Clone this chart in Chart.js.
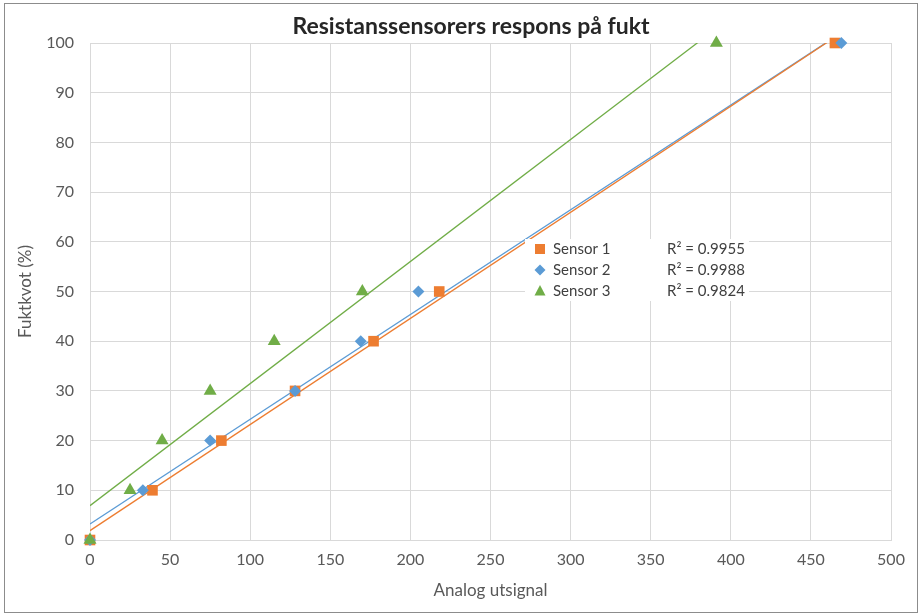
<!DOCTYPE html>
<html>
<head>
<meta charset="utf-8">
<script src="https://cdn.jsdelivr.net/npm/chart.js@4/dist/chart.umd.min.js"></script>
<style>
html,body{margin:0;padding:0;background:#fff;}
#wrap{width:921px;height:615px;position:relative;}
</style>
</head>
<body>
<div id="wrap"><canvas id="c" width="921" height="615"></canvas></div>
<script>
// ---- data ----
const chartTitle = 'Resistanssensorers respons på fukt';
const xTitle = 'Analog utsignal';
const yTitle = 'Fuktkvot (%)';
const humidity = [0, 10, 20, 30, 40, 50, 100];
const sensor1 = [0, 39, 82, 128, 177, 218, 465];
const sensor2 = [0, 33, 75, 128, 169, 205, 469];
const sensor3 = [0, 25, 45, 75, 115, 170, 391];
const seriesNames = ['Sensor 1', 'Sensor 2', 'Sensor 3'];
const r2Labels = ['R² = 0.9955', 'R² = 0.9988', 'R² = 0.9824'];
const colors = ['#ED7D31', '#5B9BD5', '#70AD47'];
const pointStyles = ['rect', 'rectRot', 'triangle'];
const pointRadii = [7.5, 6, 7.5];

function pts(xs, ys){ return xs.map((x,i)=>({x:x, y:ys[i]})); }
function trend(xs, ys){
  const n = xs.length;
  const mx = xs.reduce((a,b)=>a+b,0)/n, my = ys.reduce((a,b)=>a+b,0)/n;
  let sxy=0, sxx=0;
  for(let i=0;i<n;i++){ sxy += (xs[i]-mx)*(ys[i]-my); sxx += (xs[i]-mx)*(xs[i]-mx); }
  const b = sxy/sxx, a = my - b*mx;
  const x0 = Math.min(...xs), x1 = Math.max(...xs);
  return [{x:x0, y:a+b*x0}, {x:x1, y:a+b*x1}];
}
const sensors = [sensor1, sensor2, sensor3];
const FONT = 'Lato, "Open Sans", sans-serif';

const datasets = [];
sensors.forEach((xs, i) => {
  datasets.push({
    label: seriesNames[i], data: pts(xs, humidity), showLine: false,
    pointStyle: pointStyles[i], pointRadius: pointRadii[i], pointHoverRadius: pointRadii[i],
    backgroundColor: colors[i], borderColor: colors[i], pointBorderWidth: 0,
    clip: false, order: 2 - i
  });
});
sensors.forEach((xs, i) => {
  datasets.push({
    label: seriesNames[i] + ' trend', data: trend(xs, humidity), showLine: true,
    pointRadius: 0, borderColor: colors[i], borderWidth: 1.3, fill: false, order: 10 + i
  });
});

const deco = {
  id: 'deco',
  afterDatasetsDraw(chart){
    const ctx = chart.ctx;
    ctx.save();
    // legend box
    ctx.fillStyle = '#fff';
    ctx.fillRect(525, 239, 224, 62);
    const ys = [249, 270, 291];
    for (let i=0;i<3;i++){
      const cx = 540, cy = ys[i];
      ctx.fillStyle = colors[i];
      ctx.beginPath();
      if (i===0){ ctx.rect(cx-5, cy-5, 10, 10); }
      else if (i===1){ ctx.moveTo(cx, cy-5.5); ctx.lineTo(cx+5.5, cy); ctx.lineTo(cx, cy+5.5); ctx.lineTo(cx-5.5, cy); ctx.closePath(); }
      else { ctx.moveTo(cx, cy-6); ctx.lineTo(cx+5.5, cy+4.5); ctx.lineTo(cx-5.5, cy+4.5); ctx.closePath(); }
      ctx.fill();
      ctx.fillStyle = '#404040';
      ctx.font = '15px ' + FONT;
      ctx.textBaseline = 'middle';
      ctx.textAlign = 'left';
      ctx.fillText(seriesNames[i], 553, cy);
      ctx.fillText(r2Labels[i], 667, cy);
    }
    ctx.restore();
  },
  afterDraw(chart){
    const ctx = chart.ctx;
    ctx.save();
    ctx.fillStyle = '#262626';
    ctx.font = 'bold 23px ' + FONT;
    ctx.textAlign = 'center';
    ctx.textBaseline = 'middle';
    ctx.fillText(chartTitle, 471, 27);
    ctx.strokeStyle = '#8c8c8c';
    ctx.lineWidth = 1;
    ctx.strokeRect(4.5, 3.5, 913, 609);
    ctx.restore();
  }
};

new Chart(document.getElementById('c'), {
  type: 'scatter',
  data: { datasets },
  options: {
    responsive: false, animation: false, devicePixelRatio: 1,
    layout: { padding: { top: 43, right: 30, left: 0, bottom: 0 } },
    plugins: { legend: { display: false }, title: { display: false }, tooltip: { enabled: false } },
    scales: {
      x: {
        type: 'linear', min: 0, max: 500,
        ticks: { stepSize: 50, color: '#595959', font: { family: FONT, size: 16 }, padding: 10 },
        grid: { color: '#d9d9d9', lineWidth: 1, drawTicks: false },
        border: { color: '#d9d9d9' },
        title: { display: true, text: xTitle, color: '#595959', font: { family: FONT, size: 17 }, padding: { top: 4, bottom: 14 } },
        afterFit(s){ s.height = 75; }
      },
      y: {
        type: 'linear', min: 0, max: 100,
        ticks: { stepSize: 10, color: '#595959', font: { family: FONT, size: 16 }, padding: 16 },
        grid: { color: '#d9d9d9', lineWidth: 1, drawTicks: false },
        border: { color: '#d9d9d9' },
        title: { display: true, text: yTitle, color: '#595959', font: { family: FONT, size: 17 }, padding: { top: 15, bottom: 4 } },
        afterFit(s){ s.width = 90; }
      }
    }
  },
  plugins: [deco]
});
</script>
</body>
</html>
